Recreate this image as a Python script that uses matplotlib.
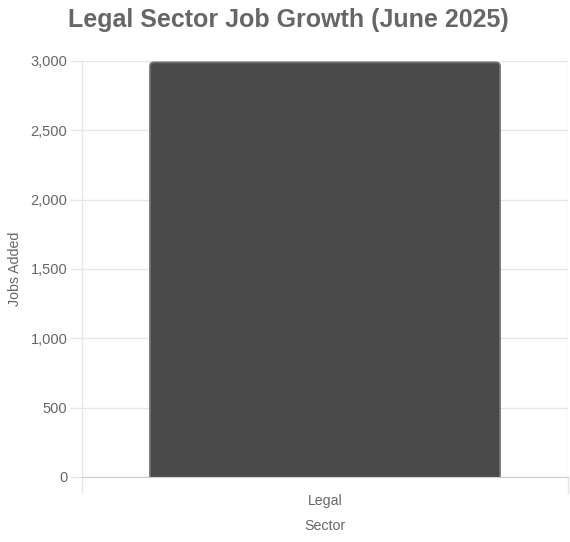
import matplotlib
matplotlib.use("Agg")
import matplotlib.pyplot as plt
from matplotlib.patches import FancyBboxPatch
from matplotlib.ticker import FuncFormatter

plt.rcParams["font.family"] = ["Liberation Sans", "DejaVu Sans"]

categories = ["Legal"]
jobs_added = [2990]
y_ticks = [0, 500, 1000, 1500, 2000, 2500, 3000]

W, H = 570, 542
fig = plt.figure(figsize=(W / 100, H / 100), dpi=100)
ax = fig.add_axes([82 / W, 1 - 477 / H, (568 - 82) / W, (477 - 61) / H])

grid_c = "#e6e6e6"
text_c = "#666666"
bar_c = "#4a4a4a"
edge_c = "#6e6e6e"

xs = list(range(len(categories)))
bars = ax.bar(xs, jobs_added, width=0.72, color=bar_c)

ax.set_xlim(-0.5, len(categories) - 0.5)
ax.set_ylim(0, 3000)

# rounded top corners
ax_w_px = 568 - 82
ax_h_px = 477 - 61
x_per_px = len(categories) / ax_w_px
y_per_px = 3000 / ax_h_px
r_px = 4
for b in bars:
    x0, w, h = b.get_x(), b.get_width(), b.get_height()
    b.set_visible(False)
    p = FancyBboxPatch((x0, -r_px * y_per_px * 2), w, h + r_px * y_per_px * 2,
                       boxstyle=f"round,pad=0,rounding_size={r_px * x_per_px}",
                       mutation_aspect=y_per_px / x_per_px,
                       facecolor=bar_c, edgecolor=edge_c, linewidth=1.3,
                       zorder=2)
    ax.add_patch(p)

ax.set_yticks(y_ticks)
ax.yaxis.set_major_formatter(FuncFormatter(lambda v, p: f"{int(v):,}"))
ax.grid(axis="y", color=grid_c, linewidth=1, zorder=0)
ax.set_axisbelow(True)
for xb in [i - 0.5 for i in range(len(categories) + 1)]:
    ax.axvline(xb, color=grid_c, linewidth=1, zorder=0)

ax.set_xticks(xs)
ax.set_xticklabels(categories)
ax.set_xticks([i - 0.5 for i in range(len(categories) + 1)], minor=True)
ax.tick_params(axis="x", which="major", length=0, pad=12.5, labelsize=10.2, labelcolor=text_c)
ax.tick_params(axis="x", which="minor", length=12, color=grid_c, width=1)
ax.tick_params(axis="y", length=9, color=grid_c, width=1, pad=1.5, labelsize=10.5, labelcolor=text_c)

for s in ["top", "right"]:
    ax.spines[s].set_visible(False)
ax.spines["left"].set_color(grid_c)
ax.spines["bottom"].set_color("#cccccc")

ax.set_xlabel("Sector", fontsize=10.2, color=text_c, labelpad=8)
ax.set_ylabel("Jobs Added", fontsize=10.2, color=text_c, labelpad=6)

fig.text(288 / W, 1 - 20 / H, "Legal Sector Job Growth (June 2025)", ha="center", va="center",
         fontsize=18, fontweight="bold", color=text_c)

fig.savefig("out.png", dpi=100)
